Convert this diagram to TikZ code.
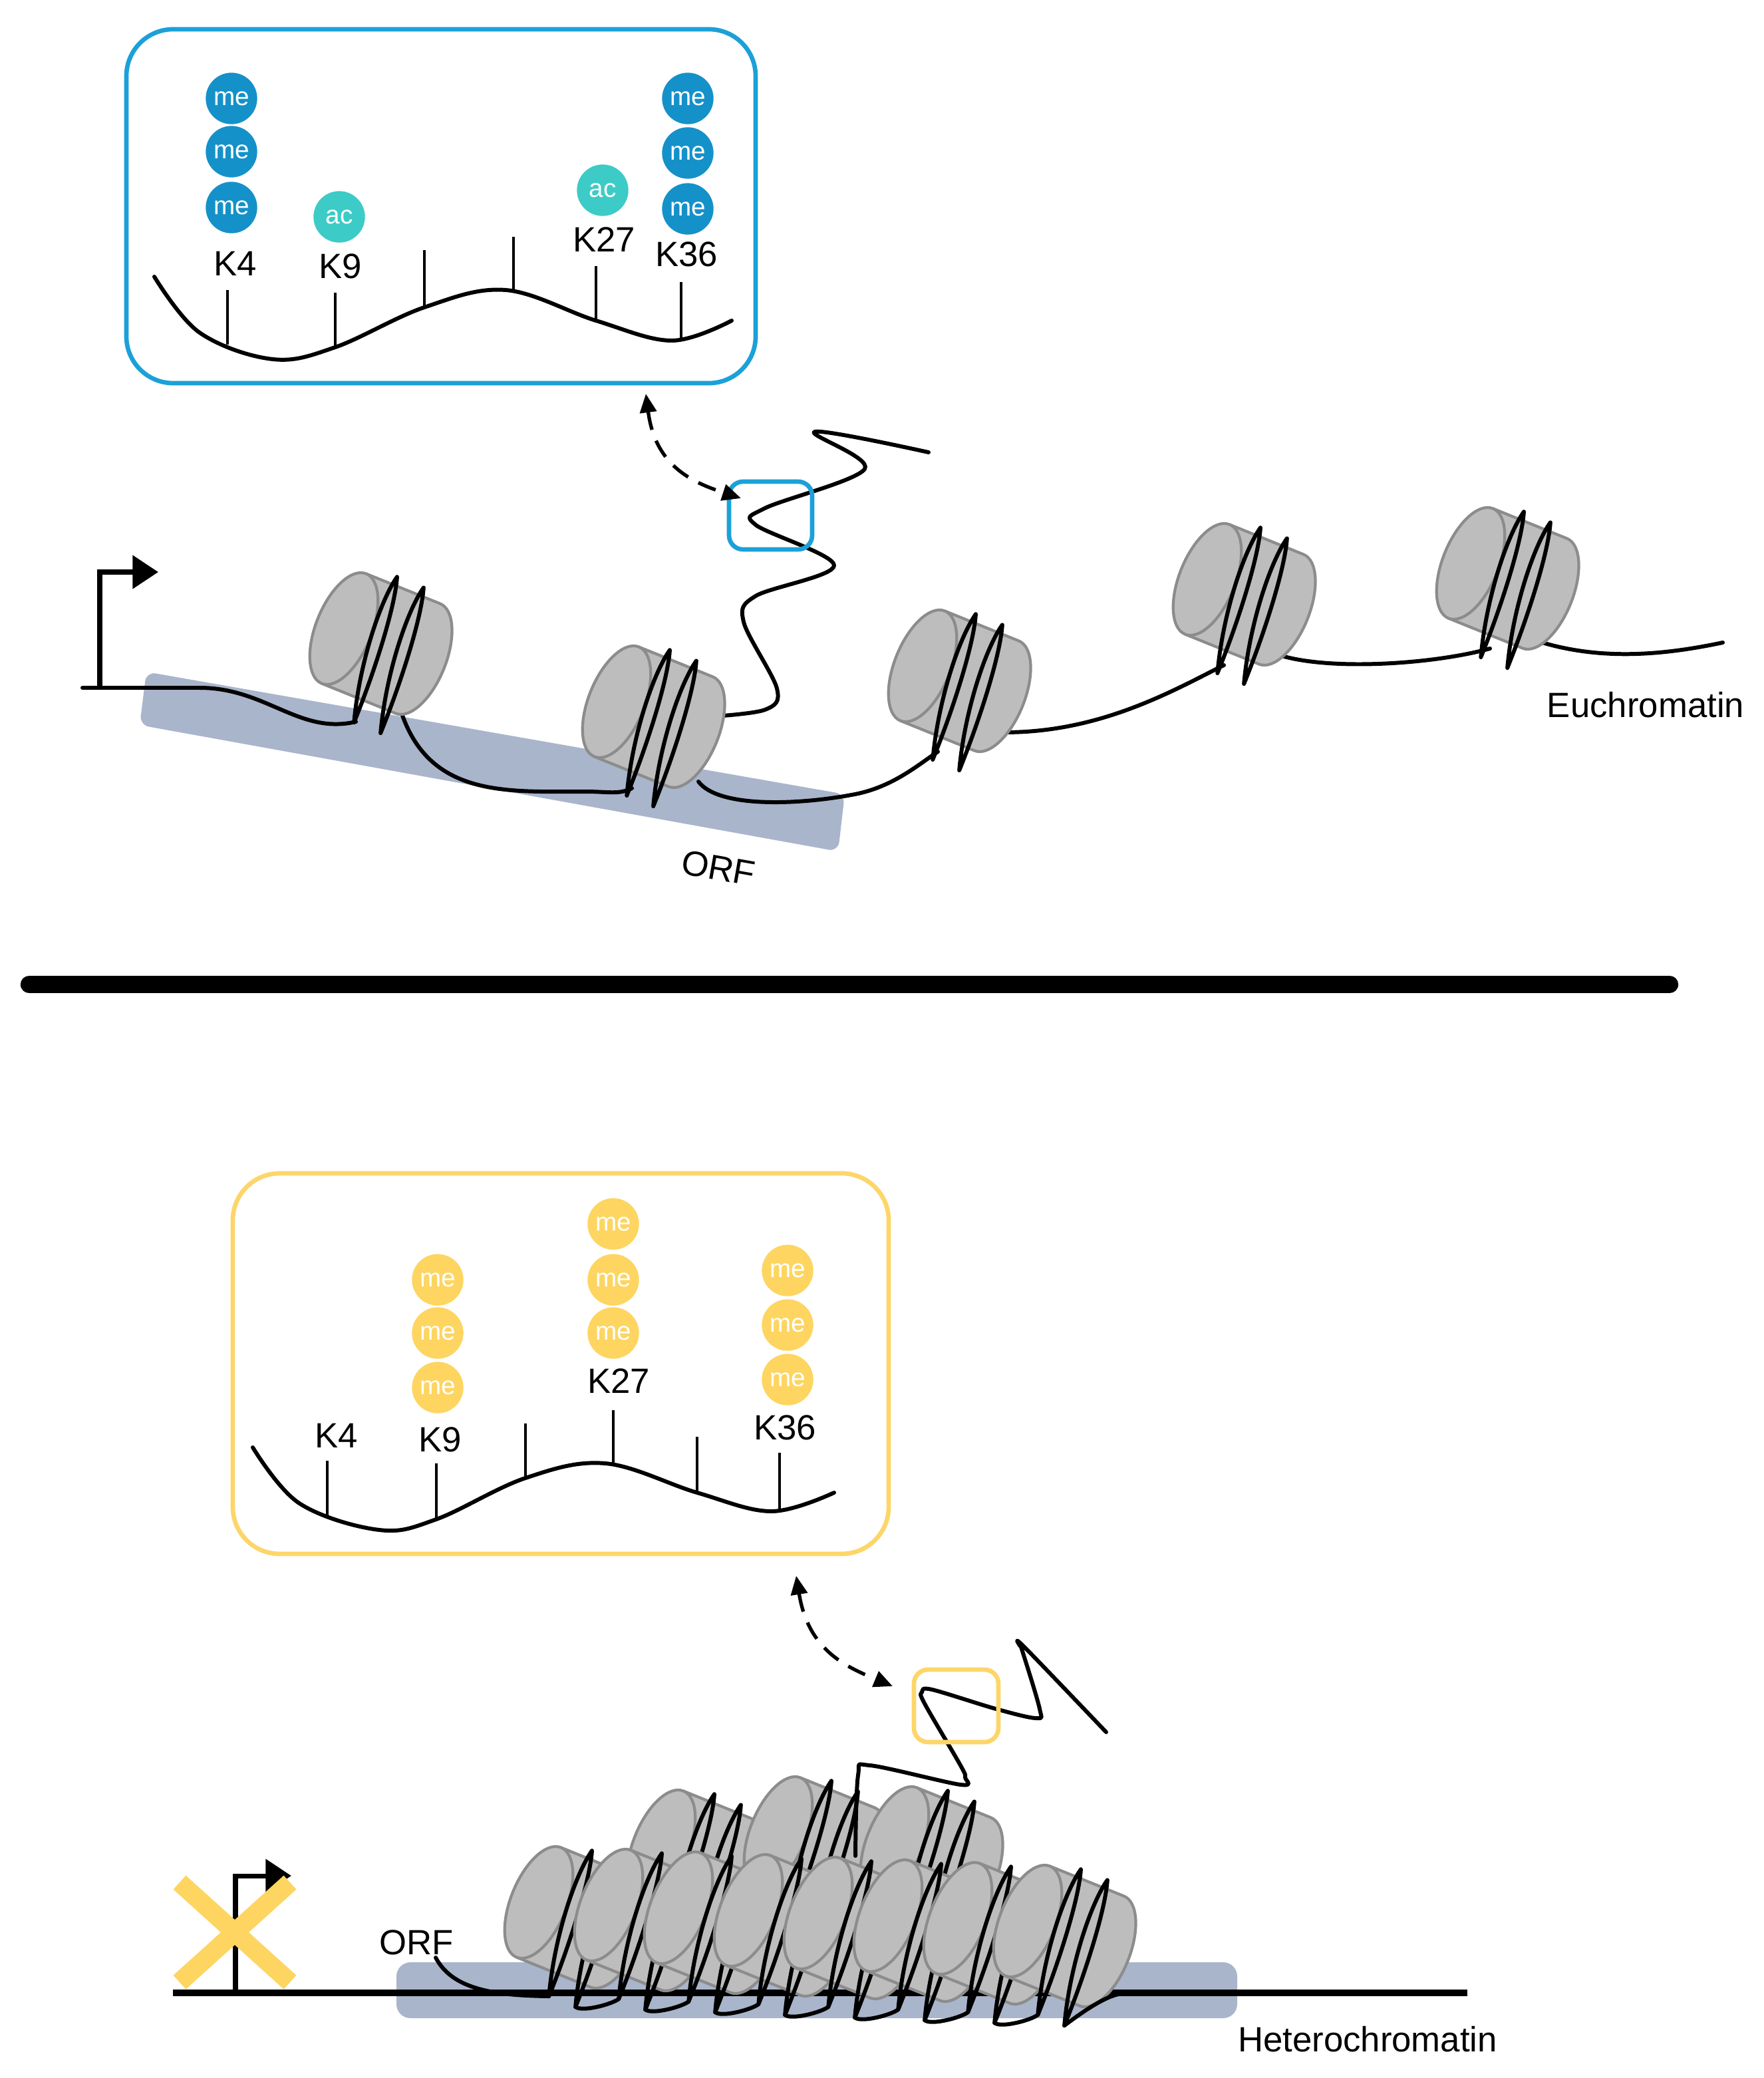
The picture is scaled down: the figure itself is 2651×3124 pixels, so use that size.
\documentclass[tikz,border=0pt]{standalone}
\usepackage{fontspec}
\setmainfont{Liberation Sans}
\usetikzlibrary{arrows.meta,calc}
\definecolor{boxblue}{HTML}{1BA1D8}
\definecolor{meblue}{HTML}{1591C9}
\definecolor{acteal}{HTML}{3CCBC6}
\definecolor{boxyel}{HTML}{FDD66A}
\definecolor{meyel}{HTML}{FDD560}
\definecolor{orfband}{HTML}{A9B5CB}
\definecolor{nucgray}{HTML}{BDBDBD}
\definecolor{nucedge}{HTML}{8C8C8C}
\tikzset{
 dna/.style={line width=1.7pt,black,line cap=round,line join=round},
 nucline/.style={line width=1.2pt,draw=nucedge},
 tick/.style={line width=1.1pt,black},
 lab/.style={font=\fontsize{15}{17}\selectfont,inner sep=0pt},
 mod/.style={circle,minimum size=22pt,inner sep=0pt,text=white,font=\fontsize{11}{13}\selectfont},
 mecb/.style={mod,fill=meblue},
 acc/.style={mod,fill=acteal},
 mecy/.style={mod,fill=meyel},
 bigbox/.style={rounded corners=20pt,line width=1.9pt},
 smallbox/.style={rounded corners=6pt,line width=1.9pt},
 dasharrow/.style={line width=1.5pt,dash pattern=on 8pt off 5pt,{Triangle[length=8pt,width=7pt]}-{Triangle[length=8pt,width=7pt]}},
}
\newcommand\loopw[1]{\draw[dna] ({#1+22},125) .. controls ({#1-4},40) and ({#1-10},-60) .. (#1,-102) .. controls ({#1+14},-60) and ({#1+22},40) .. ({#1+22},125);}
\newcommand\nuc[2]{%
 \begin{scope}[shift={(#1)},rotate=-22]
  \fill[nucgray] (120,0) ellipse [x radius=42,y radius=89];
  \fill[nucgray] (0,-89) rectangle (120,89);
  \draw[nucline] (0,-89) -- (120,-89) arc[start angle=-90,end angle=90,x radius=42,y radius=89] -- (0,89);
  \draw[nucline,fill=nucgray] (0,0) ellipse [x radius=42,y radius=89];
  \loopw{45}\loopw{88}
  \coordinate (#2in) at (67,125);
  \coordinate (#2out) at (110,125);
  \coordinate (#2low) at (110,125);
 \end{scope}}
\begin{document}
\begin{tikzpicture}[x=0.01cm,y=-0.01cm]
\useasboundingbox (0,0) rectangle (2651,3124);
\fill[white] (0,0) rectangle (2651,3124);

%% ---------------- top inset box
\draw[bigbox,draw=boxblue] (190,44) rectangle (1136,576);
\draw[dna] plot[smooth,tension=0.6] coordinates {(232,416) (300,500) (410,540) (504,522) (638,462) (760,436) (896,482) (1010,512) (1100,482)};
\draw[tick] (342,436) -- (342,518);
\draw[tick] (504,440) -- (504,522);
\draw[tick] (638,376) -- (638,464);
\draw[tick] (772,356) -- (772,438);
\draw[tick] (896,400) -- (896,484);
\draw[tick] (1024,424) -- (1024,512);
\node[mecb] (a1) at (348,148) {me};
\node[mecb] (a2) at (348,228) {me};
\node[mecb] (a3) at (348,312) {me};
\node[acc] (a4) at (510,326) {ac};
\node[acc] (a5) at (906,286) {ac};
\node[mecb] (a6) at (1034,148) {me};
\node[mecb] (a7) at (1034,230) {me};
\node[mecb] (a8) at (1034,314) {me};
\node[lab] (k4a) at (354,396) {K4};
\node[lab] (k9a) at (512,400) {K9};
\node[lab] (k27a) at (908,360) {K27};
\node[lab] (k36a) at (1032,382) {K36};

%% ---------------- euchromatin
\fill[orfband,rounded corners=4pt] (220,1010) -- (1270,1194) -- (1260,1280) -- (210,1090) -- cycle;
\node[lab,rotate=-10] (orf1) at (1080,1305) {ORF};
\node[lab] (eu) at (2474,1060) {Euchromatin};

\coordinate (s1) at (124,1034);
\coordinate (p1) at (150,1034);
\coordinate (p1t) at (150,860);
\coordinate (p1a) at (238,860);
\draw[dna] (s1) -- (300,1034);
\draw[line width=2pt,-{Triangle[length=11pt,width=14pt]}] (p1) -- (p1t) -- (p1a);

\draw[dna] (300,1034) .. controls (400,1034) and (450,1105) .. (535,1085);
\draw[dna] (600,1060) .. controls (640,1200) and (760,1190) .. (880,1190) .. controls (915,1190) and (930,1195) .. (950,1185);
\draw[dna] (1050,1175) .. controls (1080,1215) and (1200,1210) .. (1280,1195) .. controls (1340,1185) and (1380,1150) .. (1410,1130);
\draw[dna] (1480,1100) .. controls (1640,1110) and (1760,1040) .. (1840,1000);
\draw[dna] (1910,980) .. controls (1980,1010) and (2150,1000) .. (2240,975);
\coordinate (e1) at (2590,966);
\draw[dna] (2300,960) .. controls (2400,995) and (2500,985) .. (e1);
\draw[dna] plot[smooth,tension=0.55] coordinates {(1060,1078) (1150,1067) (1168,1035) (1118,935) (1136,896) (1254,850) (1136,789) (1150,764) (1300,705) (1225,649) (1396,680)};

\nuc{517,945}{n1}
\nuc{927,1055}{n2}
\nuc{1387,1001}{n3}
\nuc{1815,871}{n4}
\nuc{2211,847}{n5}

\draw[smallbox,draw=boxblue] (1096,724) rectangle (1221,826);
\coordinate (d1a) at (971,592);
\coordinate (d1b) at (1114,749);
\draw[dasharrow] (d1a) .. controls (985,700) and (1040,725) .. (d1b);

%% ---------------- separator
\coordinate (l1) at (44,1480);
\coordinate (l2) at (2510,1480);
\draw[line width=7.5pt,line cap=round] (l1) -- (l2);

%% ---------------- bottom inset box
\draw[bigbox,draw=boxyel] (350,1764) rectangle (1336,2336);
\draw[dna] plot[smooth,tension=0.6] coordinates {(380,2176) (450,2260) (570,2300) (656,2284) (790,2222) (910,2200) (1048,2244) (1160,2272) (1254,2244)};
\draw[tick] (492,2196) -- (492,2280);
\draw[tick] (656,2200) -- (656,2284);
\draw[tick] (790,2140) -- (790,2222);
\draw[tick] (922,2120) -- (922,2202);
\draw[tick] (1048,2160) -- (1048,2244);
\draw[tick] (1172,2184) -- (1172,2272);
\node[mecy] (b1) at (658,1924) {me};
\node[mecy] (b2) at (658,2004) {me};
\node[mecy] (b3) at (658,2086) {me};
\node[mecy] (b4) at (922,1840) {me};
\node[mecy] (b5) at (922,1924) {me};
\node[mecy] (b6) at (922,2004) {me};
\node[mecy] (b7) at (1184,1910) {me};
\node[mecy] (b8) at (1184,1992) {me};
\node[mecy] (b9) at (1184,2074) {me};
\node[lab] (k4b) at (506,2158) {K4};
\node[lab] (k9b) at (662,2164) {K9};
\node[lab] (k27b) at (930,2076) {K27};
\node[lab] (k36b) at (1180,2146) {K36};

%% ---------------- heterochromatin
\fill[orfband,rounded corners=6pt] (596,2950) rectangle (1860,3034);
\node[lab] (orf2) at (626,2920) {ORF};
\node[lab] (het) at (2056,3066) {Heterochromatin};
\coordinate (h1) at (260,2996);
\coordinate (h2) at (2206,2996);
\draw[line width=2.6pt] (h1) -- (h2);
\coordinate (p2) at (354,2996);
\coordinate (p2t) at (354,2820);
\coordinate (p2a) at (438,2820);
\draw[line width=2pt,-{Triangle[length=11pt,width=14pt]}] (p2) -- (p2t) -- (p2a);
\draw[line width=8pt,meyel] (270,2830) -- (436,2980);
\draw[line width=8pt,meyel] (270,2980) -- (436,2830);

\nuc{994,2775}{q1}
\nuc{1170,2755}{q2}
\nuc{1345,2770}{q3}
\draw[dna] plot[smooth,tension=0.55] coordinates {(1286,2790) (1290,2669) (1308,2654) (1444,2683) (1451,2672) (1444,2654) (1390,2561) (1386,2544) (1401,2540) (1497,2569) (1558,2583) (1563,2569) (1536,2479) (1533,2474) (1540,2476) (1663,2604)};
\draw[smallbox,draw=boxyel] (1374,2510) rectangle (1501,2619);
\coordinate (d2a) at (1197,2369);
\coordinate (d2b) at (1342,2535);
\draw[dasharrow] (d2a) .. controls (1215,2480) and (1270,2505) .. (d2b);

\foreach \i in {0,...,7}{
  \pgfmathsetmacro\cx{810+105*\i}
  \pgfmathsetmacro\cy{2860+4*\i}
  \nuc{\cx,\cy}{f\i}
}
\coordinate (g0) at (655,2943);
\draw[dna] (g0) .. controls (680,2990) and (740,3000) .. (f0in);
\foreach \i [evaluate=\i as \j using int(\i+1)] in {0,...,6}{
  \draw[dna] (f\i low) .. controls ($(f\i low)+(10,8)$) and ($(f\j in)+(-10,8)$) .. (f\j in);
}
\coordinate (g1) at (1700,2996);
\draw[dna] (f7low) .. controls (1660,3000) and (1680,2996) .. (g1);
\end{tikzpicture}
\end{document}
